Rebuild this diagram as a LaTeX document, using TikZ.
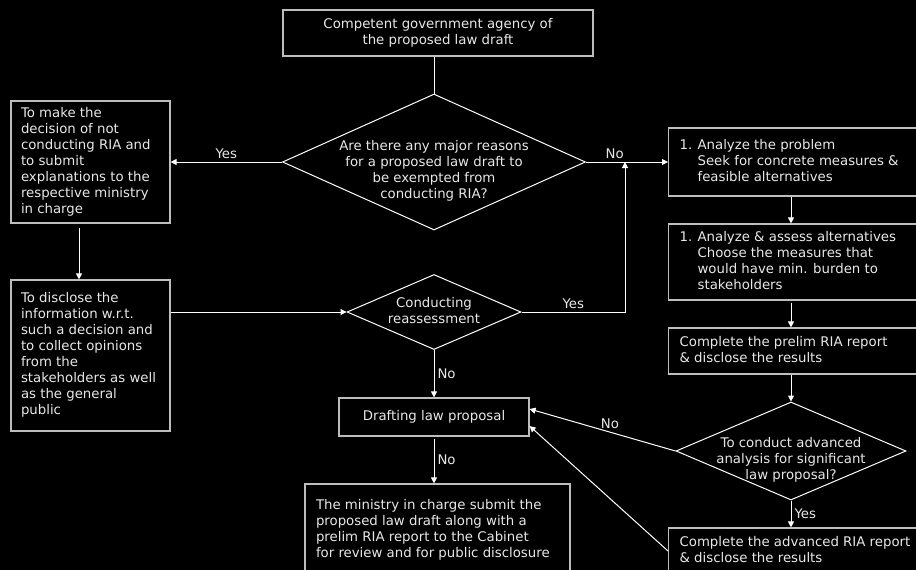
\documentclass[tikz,border=0pt]{standalone}
\usepackage{fontspec}
\setmainfont{DejaVu Sans}
\usetikzlibrary{shapes.geometric,arrows.meta}
\definecolor{boxline}{HTML}{BDBDBD}
\definecolor{txt}{HTML}{E8E8E8}
\newcommand\ltext[2]{\makebox[#1][l]{\begin{tabular}{@{}l@{}}#2\end{tabular}}}
\newcommand\ctext[1]{\begin{tabular}{@{}c@{}}#1\end{tabular}}
\newcommand\dtext[2]{\smash{\makebox[0pt]{\raisebox{#1}{\begin{tabular}{@{}c@{}}#2\end{tabular}}}}}
\newcommand\ind{\hspace*{18pt}}
\newcommand\numone{\makebox[18pt][l]{1.}}
\begin{document}
\begin{tikzpicture}[x=1pt,y=-1pt,
  every node/.style={font=\fontsize{13.3}{16}\selectfont, text=txt},
  box/.style={draw=boxline, line width=1.2pt, rectangle, inner sep=0pt},
  dia/.style={draw=white, line width=1pt, diamond, inner sep=0pt},
  arr/.style={draw=white, line width=1pt, -{Triangle[length=6pt,width=6pt]}},
  ln/.style={draw=white, line width=1pt},
  lbl/.style={inner sep=3pt}]
\fill[black] (0,0) rectangle (916,570);
\useasboundingbox (0,0) rectangle (916,570);
\clip (0,0) rectangle (916,570);

\node[box, minimum width=310, minimum height=46] (top) at (438,33)
  {\ctext{Competent government agency of\\the proposed law draft}};
\node[dia, minimum width=303, minimum height=136] (d1) at (434,162)
  {\dtext{-13pt}{Are there any major reasons\\for a proposed law draft to\\be exempted from\\conducting RIA?}};
\node[dia, minimum width=174, minimum height=75] (d2) at (434,312)
  {\dtext{-4pt}{Conducting\\reassessment}};
\node[dia, minimum width=230, minimum height=98] (d3) at (791,451)
  {\dtext{-13pt}{To conduct advanced\\analysis for significant\\law proposal?}};

\node[box, minimum width=159, minimum height=122, inner xsep=10] (lb1) at (90.5,162)
  {\ltext{139pt}{To make the\\decision of not\\conducting RIA and\\to submit\\explanations to the\\respective ministry\\in charge}};
\node[box, minimum width=159, minimum height=151, inner xsep=10] (lb2) at (90.5,355.5)
  {\ltext{139pt}{To disclose the\\information w.r.t.\\such a decision and\\to collect opinions\\from the\\stakeholders as well\\as the general\\public}};

\node[box, anchor=west, minimum height=68, inner xsep=11] (r1) at (668,162)
  {\ltext{250pt}{\numone Analyze the problem\\\ind Seek for concrete measures \&\\\ind feasible alternatives}};
\node[box, anchor=west, minimum height=76, inner xsep=11] (r2) at (668,262)
  {\ltext{250pt}{\numone Analyze \& assess alternatives\\\ind Choose the measures that\\\ind would have min. burden to\\\ind stakeholders}};
\node[box, anchor=west, minimum height=46, inner xsep=11] (r3) at (668,351)
  {\ltext{250pt}{Complete the prelim RIA report\\\& disclose the results}};
\node[box, anchor=west, minimum height=46, inner xsep=11] (r4) at (668,551)
  {\ltext{250pt}{Complete the advanced RIA report\\\& disclose the results}};

\node[box, minimum width=190, minimum height=38] (dr) at (434,417)
  {\ctext{Drafting law proposal}};
\node[box, minimum width=265, minimum height=92, inner xsep=11] (fin) at (437.5,530)
  {\ltext{243pt}{The ministry in charge submit the\\proposed law draft along with a\\prelim RIA report to the Cabinet\\for review and for public disclosure}};

\coordinate (cx) at (791,0);
\coordinate (j) at (625,162);

\draw[ln] (top.south -| d1.north) -- (d1.north);
\draw[arr] (d1.west) -- node[lbl, above]{Yes} (lb1.east);
\draw[arr, shorten <=4pt] ([xshift=-11.5pt]lb1.south) -- ([xshift=-11.5pt]lb2.north);
\draw[arr] (lb2.east |- d2.west) -- (d2.west);
\draw[arr] (d1.east) -- node[lbl, above, pos=0.35]{No} (r1.west);
\draw[arr] (d2.east) -- node[lbl, above]{Yes} (d2.east -| j) -- (j);
\draw[arr] (cx |- r1.south) -- (cx |- r2.north);
\draw[arr, shorten <=2pt] (cx |- r2.south) -- (cx |- r3.north);
\draw[arr] (cx |- r3.south) -- (d3.north);
\draw[arr] (d3.south) -- node[lbl, right]{Yes} (cx |- r4.north);
\draw[arr] (d3.west) -- node[lbl, above, pos=0.45]{No} ([yshift=8pt]dr.east);
\draw[arr] (r4.west) -- ([yshift=-9pt]dr.east);
\draw[arr] (d2.south) -- node[lbl, right]{No} (dr.north);
\draw[arr, shorten <=2pt] (dr.south) -- node[lbl, right]{No} (dr.south |- fin.north);
\end{tikzpicture}
\end{document}
